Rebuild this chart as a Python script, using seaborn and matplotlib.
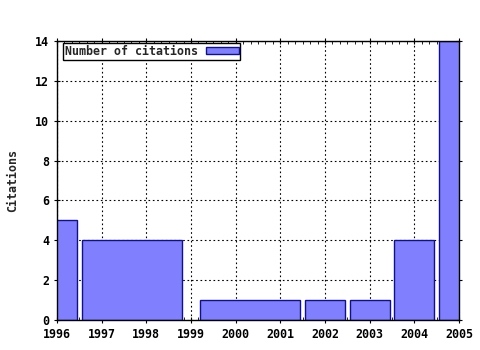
import matplotlib
matplotlib.use("Agg")
import matplotlib.pyplot as plt
import seaborn as sns
import pandas as pd
from matplotlib.patches import Patch
from matplotlib.ticker import MultipleLocator

# Data
period_start = [1995.55, 1996.56, 1999.20, 2001.55, 2002.55, 2003.55, 2004.55]
period_end = [1996.45, 1998.80, 2001.45, 2002.45, 2003.45, 2004.45, 2005.45]
citations = [5, 4, 1, 1, 1, 4, 14]
year_ticks = list(range(1996, 2006))
y_ticks = [0, 2, 4, 6, 8, 10, 12, 14]
series_label = "Number of citations"
y_label = "Citations"

df = pd.DataFrame({"start": period_start, "end": period_end, "citations": citations})

sns.set_style("white")
plt.rcParams['font.family'] = ['DejaVu Sans Mono', 'DejaVu Sans']
plt.rcParams['font.weight'] = 'bold'

fill = "#8080ff"
edge = "#10108f"
fs = 8.4

fig = plt.figure(figsize=(4.8, 3.5), dpi=100)
ax = fig.add_axes([57/480, 1 - 320/350, 402/480, 279/350])

ax.bar(x=df["start"], height=df["citations"], width=df["end"] - df["start"], bottom=0,
       align="edge", color=fill, edgecolor=edge, linewidth=1.0, zorder=3)

ax.set_xlim(1996, 2005)
ax.set_ylim(0, 14)
ax.set_xticks(year_ticks)
ax.set_xticklabels([str(y) for y in year_ticks])
ax.set_yticks(y_ticks)
ax.xaxis.set_minor_locator(MultipleLocator(1/6))
ax.yaxis.set_minor_locator(MultipleLocator(0.5))

ax.grid(True, which="major", color="black", linestyle=(0, (1.5, 2.4)), linewidth=0.8, zorder=1)
ax.set_axisbelow(True)

for s in ax.spines.values():
    s.set_color("black")
    s.set_linewidth(1.0)
    s.set_zorder(4)

ax.tick_params(axis="both", which="major", direction="inout", length=5, width=0.8,
               color="black", labelsize=fs, labelcolor="black", top=True, right=True,
               bottom=True, left=True, pad=3)
ax.tick_params(axis="both", which="minor", direction="in", length=2, width=0.6,
               color="black", top=True, right=True, bottom=True, left=False)
for lab in ax.get_xticklabels() + ax.get_yticklabels():
    lab.set_fontweight("bold")

ax.set_ylabel(y_label, fontsize=fs, fontweight="bold", labelpad=12)

handle = Patch(facecolor=fill, edgecolor=edge, linewidth=1.0)
leg = ax.legend([handle], [series_label], loc="upper left",
                bbox_to_anchor=(6/402, 1 - 2/279), borderaxespad=0,
                markerfirst=False, frameon=True, fancybox=False,
                borderpad=0.15, handlelength=2.8, handleheight=0.6,
                handletextpad=0.7, prop={"size": fs, "weight": "bold"})
leg.get_frame().set_edgecolor("black")
leg.get_frame().set_linewidth(1.0)
leg.get_frame().set_alpha(1)
leg.set_zorder(5)

fig.savefig("out.png", dpi=100)
